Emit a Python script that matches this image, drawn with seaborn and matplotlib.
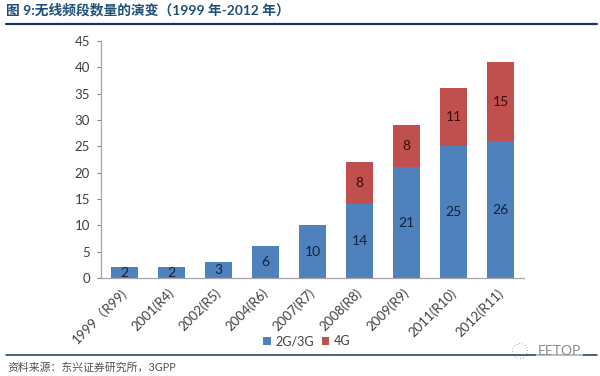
#!/usr/bin/env python3
"""Wireless band count by 3GPP release, stacked bars."""

import matplotlib
matplotlib.use("Agg")
import matplotlib.pyplot as plt
from matplotlib.patches import Ellipse
from matplotlib.transforms import ScaledTranslation
import seaborn as sns

releases = ["1999（R99)", "2001(R4)", "2002(R5)", "2004(R6)", "2007(R7)",
            "2008(R8)", "2009(R9)", "2011(R10)", "2012(R11)"]
bands_3g = [2, 2, 3, 6, 10, 14, 21, 25, 26]
bands_4g = [0, 0, 0, 0, 0, 8, 8, 11, 15]
y_ticks = [0, 5, 10, 15, 20, 25, 30, 35, 40, 45]

title_text = "图 9:无线频段数量的演变（1999 年-2012 年）"
source_text = "资料来源：东兴证券研究所，3GPP"

BLUE = "#4f81bd"
RED = "#c0504d"
NAVY = "#17375e"
TEXT = "#404040"

sns.set_theme(style="white")
plt.rcParams["font.family"] = ["Lato", "Noto Sans CJK SC", "DejaVu Sans"]

fig = plt.figure(figsize=(6.0, 3.76), dpi=100)
ax = fig.add_axes([101 / 600, 1 - 278 / 376, 423 / 600, 237 / 376])

sns.barplot(x=releases, y=bands_3g, color=BLUE, width=0.57, saturation=1,
            order=releases, ax=ax, label="2G/3G", linewidth=0, edgecolor="none")
sns.barplot(x=releases, y=bands_4g, bottom=bands_3g, color=RED, width=0.57,
            saturation=1, order=releases, ax=ax, label="4G", linewidth=0, edgecolor="none")

ax.bar_label(ax.containers[0], label_type="center", fontsize=10, color="#10243e")
labels_4g = [str(v) if v else "" for v in bands_4g]
ax.bar_label(ax.containers[1], labels=labels_4g, label_type="center", fontsize=10, color="#3b0a0a")

ax.set_ylim(0, 45)
ax.set_yticks(y_ticks)
ax.set_xlim(-0.5, len(releases) - 0.5)
ax.set_xlabel("")
ax.set_ylabel("")
ax.tick_params(axis="y", direction="out", length=3, width=0.8, color="#868686",
               left=True, labelsize=9.5, labelcolor=TEXT, pad=5)
ax.tick_params(axis="x", length=0, labelsize=9.5, labelcolor=TEXT, pad=6)
plt.setp(ax.get_xticklabels(), rotation=45, ha="right", rotation_mode="anchor")
shift = ScaledTranslation(-4 / 100, 0, fig.dpi_scale_trans)
for lab in ax.get_xticklabels():
    lab.set_transform(lab.get_transform() + shift)

sns.despine(ax=ax)
for side in ["left", "bottom"]:
    ax.spines[side].set_color("#a6a6a6")
    ax.spines[side].set_linewidth(0.9)

ax.legend(loc="center left", bbox_to_anchor=(263 / 600, 1 - 341 / 376),
          bbox_transform=fig.transFigure, ncol=2, frameon=False, fontsize=9,
          handlelength=0.6, handleheight=0.6, handletextpad=0.4, columnspacing=0.6,
          labelcolor=TEXT, borderpad=0, borderaxespad=0)

# report frame: title, rules, source line
fig.text(6 / 600, 1 - 10 / 376, title_text, fontsize=9.9, fontweight="bold",
         color="#1f4e79", va="center")
fig.add_artist(plt.Line2D([6 / 600, 597 / 600], [1 - 23.5 / 376] * 2, color=NAVY, lw=1.6))
fig.add_artist(plt.Line2D([6 / 600, 597 / 600], [1 - 355 / 376] * 2, color=NAVY, lw=1.1))
fig.text(7 / 600, 1 - 367 / 376, source_text, fontsize=7.8, color="#505050", va="center")

# watermark sitting on the lower rule
fig.add_artist(Ellipse((520 / 600, 1 - 351 / 376), 15 / 600, 15 / 376, transform=fig.transFigure,
                       facecolor="white", edgecolor="#b8b8b8", linewidth=0.8, linestyle=":"))
fig.text(581 / 600, 1 - 351 / 376, "EETOP", fontsize=10, color="#8a8a8a", ha="right", va="center",
         bbox=dict(facecolor="white", edgecolor="none", pad=1.5, alpha=0.6))

fig.savefig("out.png", dpi=100)
